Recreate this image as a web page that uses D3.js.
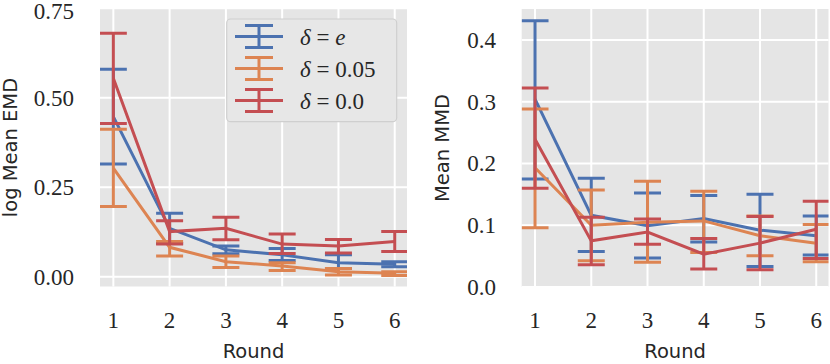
<!DOCTYPE html>
<html>
<head>
<meta charset="utf-8">
<script src="https://cdn.jsdelivr.net/npm/d3@7"></script>
</head>
<body style="margin:0;background:#fff">
<svg id="chart" width="830" height="364" style="display:block"></svg>
<script>
/// Data
const rounds = [1, 2, 3, 4, 5, 6];
const seriesNames = ["e", "0.05", "0.0"];
const seriesColors = ["#4C72B0", "#DD8452", "#C44E52"];

// log Mean EMD (left panel)
const emdMeanE   = [0.447, 0.135, 0.075, 0.061, 0.039, 0.035];
const emdLowE    = [0.315, 0.093, 0.064, 0.045, 0.023, 0.028];
const emdHighE   = [0.579, 0.177, 0.086, 0.079, 0.061, 0.042];
const emdMean005 = [0.303, 0.082, 0.042, 0.030, 0.014, 0.0095];
const emdLow005  = [0.196, 0.058, 0.026, 0.017, 0.005, 0.003];
const emdHigh005 = [0.412, 0.098, 0.058, 0.039, 0.023, 0.014];
const emdMean00  = [0.554, 0.126, 0.135, 0.091, 0.086, 0.098];
const emdLow00   = [0.428, 0.091, 0.103, 0.065, 0.066, 0.070];
const emdHigh00  = [0.680, 0.156, 0.166, 0.119, 0.104, 0.126];

// Mean MMD (right panel)
const mmdMeanE   = [0.304, 0.116, 0.099, 0.111, 0.092, 0.083];
const mmdLowE    = [0.175, 0.0575, 0.047, 0.073, 0.033, 0.0516];
const mmdHighE   = [0.431, 0.176, 0.152, 0.148, 0.150, 0.115];
const mmdMean005 = [0.193, 0.100, 0.105, 0.107, 0.083, 0.071];
const mmdLow005  = [0.096, 0.0425, 0.040, 0.056, 0.0505, 0.041];
const mmdHigh005 = [0.288, 0.157, 0.171, 0.155, 0.115, 0.101];
const mmdMean00  = [0.239, 0.0747, 0.089, 0.053, 0.071, 0.0935];
const mmdLow00   = [0.160, 0.036, 0.069, 0.029, 0.028, 0.046];
const mmdHigh00  = [0.322, 0.113, 0.110, 0.0785, 0.114, 0.139];

const emdTicks = [0, 0.25, 0.5, 0.75];
const mmdTicks = [0, 0.1, 0.2, 0.3, 0.4];

const SERIF = "Liberation Serif, serif";
const SANS = "DejaVu Sans, sans-serif";
const INK = "#262626";

const svg = d3.select("#chart");

function buildSeries(means, lows, highs) {
  return means.map((m, i) => rounds.map((r, j) => ({
    round: r, mean: m[j], low: lows[i][j], high: highs[i][j]
  })));
}

////// Draw one panel ///////
function drawPanel(opts) {
  const { id, left, right, top, bottom, yDomain, ticks, tickFormat, yTitle, yTitleX, tickRight, series } = opts;

  const x = d3.scaleLinear().domain([0.763, 6.218]).range([left, right]);
  const y = d3.scaleLinear().domain(yDomain).range([bottom, top]);

  const g = svg.append("g");

  // background
  g.append("rect")
    .attr("x", left).attr("y", top)
    .attr("width", right - left).attr("height", bottom - top)
    .attr("fill", "#e5e5e5");

  // grid
  g.selectAll(".gx").data(rounds).join("line")
    .attr("x1", d => x(d)).attr("x2", d => x(d))
    .attr("y1", top).attr("y2", bottom)
    .attr("stroke", "#fff").attr("stroke-width", 2);
  g.selectAll(".gy").data(ticks).join("line")
    .attr("x1", left).attr("x2", right)
    .attr("y1", d => y(d)).attr("y2", d => y(d))
    .attr("stroke", "#fff").attr("stroke-width", 2);

  // tick labels (keep the top one inside the page)
  g.selectAll(".ylab").data(ticks).join("text")
    .style("font-family", SERIF).style("font-size", "23px").attr("fill", INK)
    .attr("x", tickRight).attr("y", d => Math.max(y(d), 10.5))
    .attr("dy", "0.35em")
    .attr("text-anchor", "end")
    .text(tickFormat);
  g.selectAll(".xlab").data(rounds).join("text")
    .style("font-family", SERIF).style("font-size", "23px").attr("fill", INK)
    .attr("x", d => x(d)).attr("y", 328)
    .attr("text-anchor", "middle")
    .text(d => d);

  // titles
  g.append("text")
    .style("font-family", SANS).style("font-size", "19.5px").attr("fill", INK)
    .attr("x", (left + right) / 2).attr("y", 358)
    .attr("text-anchor", "middle")
    .text("Round");
  g.append("text")
    .style("font-family", SANS).style("font-size", "19.5px").attr("fill", INK)
    .attr("transform", `translate(${yTitleX},${(top + bottom) / 2}) rotate(-90)`)
    .attr("text-anchor", "middle")
    .attr("dy", "0.35em")
    .text(yTitle);

  // clip
  svg.append("clipPath").attr("id", "clip-" + id)
    .append("rect")
    .attr("x", left).attr("y", top)
    .attr("width", right - left).attr("height", bottom - top);

  const plot = g.append("g").attr("clip-path", `url(#clip-${id})`);
  const line = d3.line().x(d => x(d.round)).y(d => y(d.mean));
  const capW = 13.5;

  series.forEach((pts, i) => {
    const color = seriesColors[i];
    const sg = plot.append("g")
      .attr("stroke", color).attr("stroke-width", 3).attr("fill", "none");
    sg.append("path").attr("d", line(pts));
    sg.selectAll(".bar").data(pts).join("line")
      .attr("x1", d => x(d.round)).attr("x2", d => x(d.round))
      .attr("y1", d => y(d.low)).attr("y2", d => y(d.high));
    sg.selectAll(".capl").data(pts).join("line")
      .attr("x1", d => x(d.round) - capW).attr("x2", d => x(d.round) + capW)
      .attr("y1", d => y(d.low)).attr("y2", d => y(d.low));
    sg.selectAll(".caph").data(pts).join("line")
      .attr("x1", d => x(d.round) - capW).attr("x2", d => x(d.round) + capW)
      .attr("y1", d => y(d.high)).attr("y2", d => y(d.high));
  });
}

drawPanel({
  id: "emd", left: 100, right: 407, top: 8.5, bottom: 286.5,
  yDomain: [-0.0274, 0.749], ticks: emdTicks, tickFormat: d3.format(".2f"),
  yTitle: "log Mean EMD", yTitleX: 10, tickRight: 74,
  series: buildSeries([emdMeanE, emdMean005, emdMean00],
                      [emdLowE, emdLow005, emdLow00],
                      [emdHighE, emdHigh005, emdHigh00])
});

drawPanel({
  id: "mmd", left: 521.7, right: 828.5, top: 9, bottom: 287,
  yDomain: [0, 0.45], ticks: mmdTicks, tickFormat: d3.format(".1f"),
  yTitle: "Mean MMD", yTitleX: 442, tickRight: 496,
  series: buildSeries([mmdMeanE, mmdMean005, mmdMean00],
                      [mmdLowE, mmdLow005, mmdLow00],
                      [mmdHighE, mmdHigh005, mmdHigh00])
});

////// Legend ///////
const legend = svg.append("g");
legend.append("rect")
  .attr("x", 226.7).attr("y", 19)
  .attr("width", 170).attr("height", 102.7)
  .attr("rx", 4)
  .attr("fill", "#e7e7e7").attr("stroke", "#cfcfcf").attr("stroke-width", 1.2);

seriesNames.forEach((name, i) => {
  const cy = 36.5 + i * 32;
  const lg = legend.append("g")
    .attr("stroke", seriesColors[i]).attr("stroke-width", 3);
  lg.append("line").attr("x1", 235).attr("x2", 283).attr("y1", cy).attr("y2", cy);
  lg.append("line").attr("x1", 259).attr("x2", 259).attr("y1", cy - 11).attr("y2", cy + 11);
  lg.append("line").attr("x1", 245).attr("x2", 273).attr("y1", cy - 11).attr("y2", cy - 11);
  lg.append("line").attr("x1", 245).attr("x2", 273).attr("y1", cy + 11).attr("y2", cy + 11);

  const t = legend.append("text")
    .style("font-family", SERIF).style("font-size", "23px").attr("fill", INK)
    .attr("x", 300).attr("y", cy).attr("dy", "0.35em");
  t.append("tspan").style("font-style", "italic").text("δ");
  t.append("tspan").text(" = ");
  const v = t.append("tspan").text(name);
  if (name === "e") v.style("font-style", "italic");
});
</script>
</body>
</html>
